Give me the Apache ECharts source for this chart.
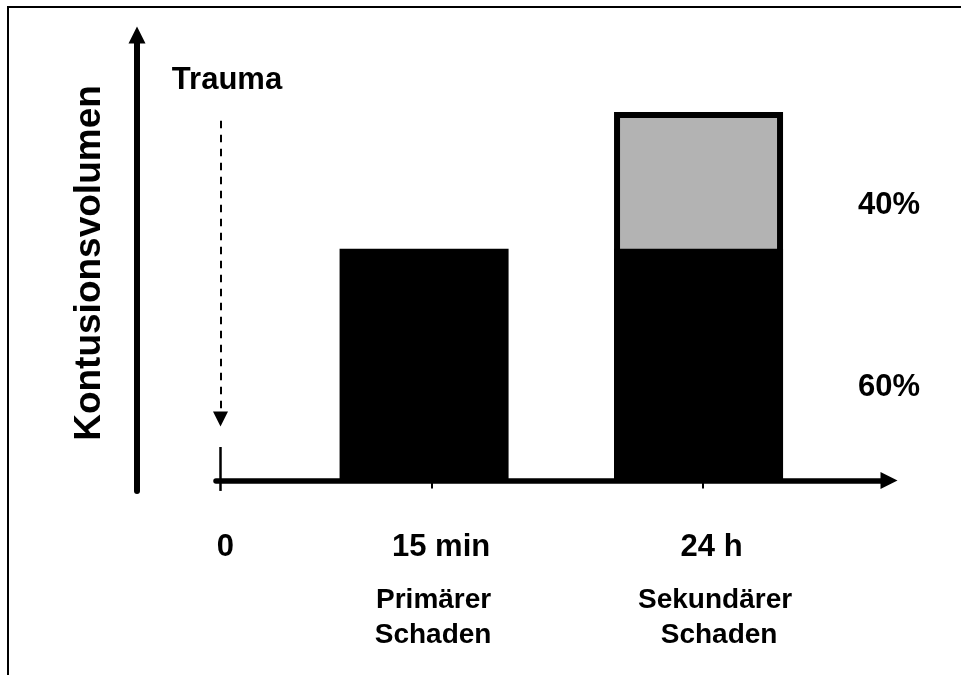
<!DOCTYPE html>
<html>
<head>
<meta charset="utf-8">
<script src="https://cdn.jsdelivr.net/npm/echarts@6/dist/echarts.min.js"></script>
<style>
html, body { margin: 0; padding: 0; background: #fff; }
#main { width: 961px; height: 675px; }
</style>
</head>
<body>
<div id="main"></div>
<script>
// Zeitpunkte auf der (schematischen) Zeitachse
var tickPos = [0, 7, 16];
var tickLabels = ['0', '15 min', '24 h'];
var subLabels = [[], ['Primärer', 'Schaden'], ['Sekundärer', 'Schaden']];

// Kontusionsvolumen (relativ)
var barPos = [6.75, 15.85];
var primaryVals = [100, 100];
var secondaryVals = [0, 59];
var shareLabels = ['60%', '40%'];

// Trauma-Pfeil und Nullmarke
var traumaLine = [155.2, 26.5];
var zeroMark = [14.45, -4.5];

var FONT = "'Liberation Sans', Arial, Helvetica, sans-serif";

function buildRich(){
    var mainNudge = [10, 19, 17];
    var subNudge = [[], [4, 3], [24, 32]];
    var rich = {};
    tickLabels.forEach(function(t, i){
        rich['m' + i] = {
            fontSize: 31, fontWeight: 'bold', fontFamily: FONT, color: '#000',
            lineHeight: 72, align: 'center', padding: [0, 0, 0, mainNudge[i]]
        };
        subLabels[i].forEach(function(s, j){
            rich['s' + i + j] = {
                fontSize: 28, fontWeight: 'bold', fontFamily: FONT, color: '#000',
                lineHeight: 35, align: 'center', padding: [0, 0, 0, subNudge[i][j]]
            };
        });
    });
    return rich;
}

function labelFor(val){
    var i = tickPos.indexOf(val);
    if (i < 0) return '';
    var txt = '{m' + i + '|' + tickLabels[i] + '}';
    subLabels[i].forEach(function(s, j){
        txt += '\n{s' + i + j + '|' + s + '}';
    });
    return txt;
}

function shareLabel(text, dy){
    return {
        show: false,
        formatter: text,
        position: 'right',
        distance: 75,
        offset: [0, dy],
        fontSize: 31,
        fontWeight: 'bold',
        fontFamily: FONT,
        color: '#000'
    };
}

// gesamter Balken (primär + sekundär) nur dort, wo ein Sekundärschaden existiert
var totalData = [];
barPos.forEach(function(x, i){
    if (secondaryVals[i] > 0) {
        totalData.push({ value: [x, primaryVals[i] + secondaryVals[i]], label: { show: true } });
    }
});

var myChart = echarts.init(document.getElementById('main'));
var option = {
    animation: false,
    backgroundColor: '#fff',
    grid: {
        left: 216, right: 72, top: 35, bottom: 184,
        outerBoundsMode: 'none'
    },
    xAxis: {
        type: 'value',
        min: -0.149,
        max: 22.165,
        axisLine: {
            show: true, onZero: true,
            symbol: ['none', 'triangle'], symbolSize: [17, 17],
            lineStyle: { color: '#000', width: 5.5 }
        },
        axisTick: {
            show: true, customValues: tickPos.slice(1), length: 8,
            lineStyle: { color: '#000', width: 2 }
        },
        axisLabel: {
            customValues: tickPos,
            margin: 20,
            formatter: labelFor,
            rich: buildRich()
        },
        splitLine: { show: false }
    },
    yAxis: {
        type: 'value',
        min: -4.53,
        max: 192.2,
        offset: 79,
        name: 'Kontusionsvolumen',
        nameLocation: 'middle',
        nameRotate: 90,
        nameGap: 29,
        nameTextStyle: { fontSize: 37, fontWeight: 'bold', fontFamily: FONT, color: '#000' },
        axisLine: {
            show: true, onZero: false,
            symbol: ['none', 'triangle'], symbolSize: [17, 17],
            lineStyle: { color: '#000', width: 6 }
        },
        axisTick: { show: false },
        axisLabel: { show: false },
        splitLine: { show: false }
    },
    graphic: [
        {
            type: 'rect', silent: true,
            shape: { x: 8, y: 7, width: 2000, height: 2000 },
            style: { fill: 'none', stroke: '#000', lineWidth: 2 }
        },
        {
            type: 'text', silent: true, x: 227, y: 80,
            style: {
                text: 'Trauma', fontSize: 31, fontWeight: 'bold', fontFamily: FONT,
                fill: '#000', align: 'center', verticalAlign: 'middle'
            }
        }
    ],
    series: [
        {
            name: 'sekundär',
            type: 'bar',
            barWidth: 169,
            barGap: '-100%',
            itemStyle: { color: '#b3b3b3', borderColor: '#000', borderWidth: 6 },
            label: shareLabel(shareLabels[1], -91),
            data: totalData,
            markLine: {
                silent: true,
                symbol: ['none', 'none'],
                label: { show: false },
                lineStyle: { color: '#000', type: 'solid', width: 2.5 },
                data: [[
                    { coord: [tickPos[0], zeroMark[0]] },
                    { coord: [tickPos[0], zeroMark[1]] }
                ]]
            }
        },
        {
            name: 'primär',
            type: 'bar',
            barWidth: 169,
            barGap: '-100%',
            itemStyle: { color: '#000' },
            label: shareLabel(shareLabels[0], 23),
            data: barPos.map(function(x, i){
                return { value: [x, primaryVals[i]], label: { show: secondaryVals[i] > 0 } };
            }),
            markLine: {
                silent: true,
                symbol: ['none', 'triangle'],
                symbolSize: [15, 15],
                label: { show: false },
                lineStyle: { color: '#000', type: [7.5, 6.5], width: 2 },
                data: [[
                    { coord: [tickPos[0], traumaLine[0]] },
                    { coord: [tickPos[0], traumaLine[1]] }
                ]]
            }
        }
    ]
};
myChart.setOption(option);
</script>
</body>
</html>
